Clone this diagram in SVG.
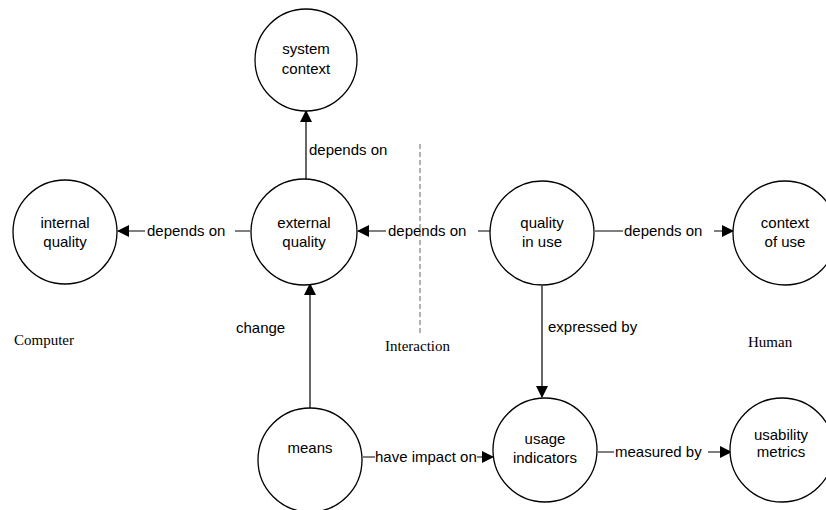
<svg xmlns="http://www.w3.org/2000/svg" width="826" height="510" viewBox="0 0 826 510">
  <style>
    .node circle { fill: #fff; stroke: #000; stroke-width: 1.3; }
    .node text, .lbl { font-family: "Liberation Sans", Arial, sans-serif; font-size: 15px; fill: #000; }
    .node text { text-anchor: middle; }
    .edge { stroke: #000; stroke-width: 1.2; fill: none; }
    .bg { fill: #fff; }
    .zone { font-family: "Liberation Serif", "Times New Roman", serif; font-size: 15px; fill: #000; }
  </style>
  <defs>
    <marker id="arrow" markerWidth="12" markerHeight="12" refX="11" refY="6" orient="auto" markerUnits="userSpaceOnUse">
      <path d="M0,0 L12,6 L0,12 Z" fill="#000"/>
    </marker>
  </defs>

  <rect width="826" height="510" fill="#fff"/>

  <!-- connectors -->
  <g id="connectors">
    <line class="edge" x1="306" y1="180" x2="306" y2="111" marker-end="url(#arrow)"/>
    <text class="lbl" x="309" y="155">depends on</text>

    <line class="edge" x1="250" y1="231" x2="118" y2="231" marker-end="url(#arrow)"/>
    <rect class="bg" x="145" y="222" width="90" height="18"/>
    <text class="lbl" x="147" y="236">depends on</text>

    <line class="edge" x1="490" y1="231" x2="358" y2="231" marker-end="url(#arrow)"/>
    <rect class="bg" x="386" y="222" width="92" height="18"/>
    <text class="lbl" x="388" y="236">depends on</text>

    <line class="edge" x1="595" y1="231" x2="733" y2="231" marker-end="url(#arrow)"/>
    <rect class="bg" x="623" y="222" width="91" height="18"/>
    <text class="lbl" x="624" y="236">depends on</text>

    <line class="edge" x1="542" y1="286" x2="542" y2="397" marker-end="url(#arrow)"/>
    <text class="lbl" x="548" y="332">expressed by</text>

    <line class="edge" x1="310" y1="408" x2="310" y2="284" marker-end="url(#arrow)"/>
    <text class="lbl" x="236" y="333">change</text>

    <line class="edge" x1="363" y1="457" x2="493" y2="457" marker-end="url(#arrow)"/>
    <rect class="bg" x="375" y="448" width="102" height="18"/>
    <text class="lbl" x="375" y="462">have impact on</text>

    <line class="edge" x1="598" y1="452" x2="731" y2="452" marker-end="url(#arrow)"/>
    <rect class="bg" x="614" y="443" width="94" height="18"/>
    <text class="lbl" x="615" y="457">measured by</text>

    <!-- boundary between computer and human sides -->
    <line x1="420" y1="144" x2="420" y2="333" stroke="#666" stroke-width="1" stroke-dasharray="5,3"/>
  </g>

  <!-- nodes -->
  <g id="system-context" class="node">
    <circle cx="306" cy="60" r="51"/>
    <text x="306" y="54">system</text>
    <text x="306" y="74">context</text>
  </g>
  <g id="internal-quality" class="node">
    <circle cx="65" cy="232" r="52"/>
    <text x="65" y="228">internal</text>
    <text x="65" y="247">quality</text>
  </g>
  <g id="external-quality" class="node">
    <circle cx="304" cy="232" r="53"/>
    <text x="304" y="228">external</text>
    <text x="304" y="247">quality</text>
  </g>
  <g id="quality-in-use" class="node">
    <circle cx="542" cy="233" r="52"/>
    <text x="542" y="228">quality</text>
    <text x="542" y="247">in use</text>
  </g>
  <g id="context-of-use" class="node">
    <circle cx="785" cy="233" r="52"/>
    <text x="785" y="228">context</text>
    <text x="785" y="247">of use</text>
  </g>
  <g id="means" class="node">
    <circle cx="310" cy="460" r="52"/>
    <text x="310" y="453">means</text>
  </g>
  <g id="usage-indicators" class="node">
    <circle cx="545" cy="450" r="52"/>
    <text x="545" y="444">usage</text>
    <text x="545" y="463">indicators</text>
  </g>
  <g id="usability-metrics" class="node">
    <circle cx="782" cy="450" r="52"/>
    <text x="781" y="440">usability</text>
    <text x="781" y="457">metrics</text>
  </g>

  <!-- side captions -->
  <text class="zone" x="14" y="345">Computer</text>
  <text class="zone" x="385" y="351">Interaction</text>
  <text class="zone" x="748" y="347">Human</text>
</svg>
